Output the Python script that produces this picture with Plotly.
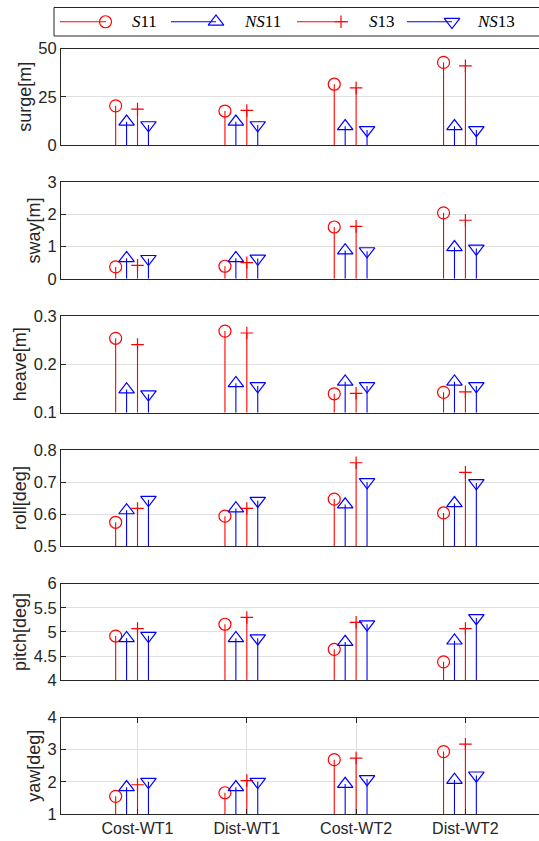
import plotly.graph_objects as go

# ---------------------------------------------------------------- data
categories = ["Cost-WT1", "Dist-WT1", "Cost-WT2", "Dist-WT2"]
cat_pos = [1, 2, 3, 4]

series_names = ["S11", "NS11", "S13", "NS13"]
series_labels = ["<i>S</i>11", "<i>NS</i>11", "<i>S</i>13", "<i>NS</i>13"]
series_offsets = [-0.2, -0.1, 0.0, 0.1]

surge_S11 = [20.3, 17.6, 31.5, 42.8]
surge_NS11 = [12.0, 12.0, 9.7, 9.7]
surge_S13 = [18.6, 17.9, 29.6, 41.0]
surge_NS13 = [10.3, 10.3, 7.8, 7.8]

sway_S11 = [0.37, 0.39, 1.61, 2.05]
sway_NS11 = [0.64, 0.64, 0.88, 0.98]
sway_S13 = [0.42, 0.50, 1.63, 1.82]
sway_NS13 = [0.62, 0.63, 0.86, 0.94]

heave_S11 = [0.254, 0.269, 0.139, 0.142]
heave_NS11 = [0.148, 0.161, 0.164, 0.164]
heave_S13 = [0.241, 0.265, 0.140, 0.143]
heave_NS13 = [0.138, 0.155, 0.155, 0.155]

roll_S11 = [0.575, 0.594, 0.647, 0.604]
roll_NS11 = [0.612, 0.618, 0.630, 0.634]
roll_S13 = [0.618, 0.618, 0.760, 0.730]
roll_NS13 = [0.645, 0.642, 0.700, 0.697]

pitch_S11 = [4.915, 5.16, 4.64, 4.38]
pitch_NS11 = [4.87, 4.87, 4.79, 4.82]
pitch_S13 = [5.07, 5.30, 5.20, 5.07]
pitch_NS13 = [4.92, 4.87, 5.16, 5.29]

yaw_S11 = [1.55, 1.66, 2.69, 2.94]
yaw_NS11 = [1.83, 1.83, 1.93, 2.06]
yaw_S13 = [1.91, 2.04, 2.74, 3.17]
yaw_NS13 = [2.00, 2.00, 2.09, 2.20]

panel_titles = ["surge[m]", "sway[m]", "heave[m]", "roll[deg]", "pitch[deg]", "yaw[deg]"]
panel_data = [
    [surge_S11, surge_NS11, surge_S13, surge_NS13],
    [sway_S11, sway_NS11, sway_S13, sway_NS13],
    [heave_S11, heave_NS11, heave_S13, heave_NS13],
    [roll_S11, roll_NS11, roll_S13, roll_NS13],
    [pitch_S11, pitch_NS11, pitch_S13, pitch_NS13],
    [yaw_S11, yaw_NS11, yaw_S13, yaw_NS13],
]
panel_ranges = [[0, 50], [0, 3], [0.1, 0.3], [0.5, 0.8], [4, 6], [1, 4]]
panel_ticks = [
    [0, 25, 50],
    [0, 1, 2, 3],
    [0.1, 0.2, 0.3],
    [0.5, 0.6, 0.7, 0.8],
    [4, 4.5, 5, 5.5, 6],
    [1, 2, 3, 4],
]
panel_ticktext = [
    ["0", "25", "50"],
    ["0", "1", "2", "3"],
    ["0.1", "0.2", "0.3"],
    ["0.5", "0.6", "0.7", "0.8"],
    ["4", "4.5", "5", "5.5", "6"],
    ["1", "2", "3", "4"],
]

# ---------------------------------------------------------------- styles
RED = "#ff0000"
BLUE = "#0000ff"
series_colors = [RED, BLUE, RED, BLUE]
series_symbols = ["circle-open", "triangle-up-open", "cross-thin-open", "triangle-down-open"]
series_sizes = [12, 13.5, 9, 13.5]
AX = "#262626"
GRID = "#e0e0e0"
FONT = "Liberation Sans, Arial, sans-serif"
SERIF = "Liberation Serif, Times New Roman, serif"

W, H = 539, 841
ML = 61
plot_w = W - ML
px_per_unit = 109.3
x_lo = 0.3
x_hi = x_lo + plot_w / px_per_unit

tops = [48.5 + 133.8 * i for i in range(6)]
ph = 96.5

fig = go.Figure()
layout = dict(
    template="none",
    width=W, height=H, autosize=False,
    margin=dict(l=ML, r=0, t=0, b=0, pad=0),
    paper_bgcolor="white", plot_bgcolor="white",
    showlegend=False,
    font=dict(family=FONT, size=16, color=AX),
)

for p in range(6):
    xa = "x" if p == 0 else f"x{p+1}"
    ya = "y" if p == 0 else f"y{p+1}"
    last = p == 5
    for s in range(4):
        xs = [c + series_offsets[s] for c in cat_pos]
        vals = panel_data[p][s]
        sx, sy = [], []
        for xv, yv in zip(xs, vals):
            sx += [xv, xv, None]
            sy += [0, yv, None]
        fig.add_trace(go.Scatter(
            x=sx, y=sy, mode="lines", xaxis=xa, yaxis=ya,
            line=dict(color=series_colors[s], width=1.1),
            hoverinfo="skip",
        ))
        fig.add_trace(go.Scatter(
            x=xs, y=vals, mode="markers", xaxis=xa, yaxis=ya,
            name=series_names[s],
            marker=dict(symbol=series_symbols[s], size=series_sizes[s],
                        color=series_colors[s],
                        line=dict(color=series_colors[s], width=1.2)),
            cliponaxis=False,
        ))
    y0 = 1 - (tops[p] + ph) / H
    y1 = 1 - tops[p] / H
    xkey = "xaxis" if p == 0 else f"xaxis{p+1}"
    ykey = "yaxis" if p == 0 else f"yaxis{p+1}"
    layout[xkey] = dict(
        domain=[0, 1], anchor=ya, range=[x_lo, x_hi], automargin=False,
        showline=True, linecolor=AX, linewidth=1,
        mirror="ticks" if last else True,
        showgrid=last, gridcolor=GRID, gridwidth=1,
        zeroline=False,
        tickmode="array", tickvals=cat_pos, ticktext=categories,
        showticklabels=last,
        ticks="inside" if last else "", ticklen=5, tickcolor=AX,
        tickfont=dict(size=16, color=AX, family=FONT),
    )
    layout[ykey] = dict(
        domain=[y0, y1], anchor=xa, range=panel_ranges[p], automargin=False,
        showline=True, linecolor=AX, linewidth=1, mirror=False,
        showgrid=True, gridcolor=GRID, gridwidth=1, zeroline=False,
        tickmode="array", tickvals=panel_ticks[p], ticktext=panel_ticktext[p],
        ticks="inside", ticklen=5, tickcolor=AX,
        tickfont=dict(size=16.5, color=AX, family=FONT),
        title=dict(text=panel_titles[p], font=dict(size=18, color=AX, family=FONT),
                   standoff=2),
    )

# ---------------------------------------------------------------- legend
leg_top, leg_bot = 7.5, 36.0
leg_mid = (leg_top + leg_bot) / 2
leg_line_x = [(60, 106), (171, 216), (297, 348), (407, 452)]
leg_marker_x = [105.5, 216, 341, 452]
leg_text_x = [130, 242, 367, 475]


def px_x(v):
    return (v - ML) / plot_w


def px_y(v):
    return 1 - v / H


shapes = [dict(type="rect", xref="paper", yref="paper",
               x0=px_x(54), x1=1.05, y0=px_y(leg_bot), y1=px_y(leg_top),
               line=dict(color=AX, width=1), fillcolor="white", layer="below")]
for s in range(4):
    shapes.append(dict(type="line", xref="paper", yref="paper",
                       x0=px_x(leg_line_x[s][0]), x1=px_x(leg_line_x[s][1]),
                       y0=px_y(leg_mid), y1=px_y(leg_mid),
                       line=dict(color=series_colors[s], width=1.2)))
layout["shapes"] = shapes

layout["xaxis7"] = dict(domain=[0, 1], anchor="y7", range=[ML, W], visible=False,
                        automargin=False)
layout["yaxis7"] = dict(domain=[px_y(leg_bot), px_y(leg_top)], anchor="x7",
                        range=[leg_bot, leg_top], visible=False, automargin=False)
for s in range(4):
    fig.add_trace(go.Scatter(
        x=[leg_marker_x[s]], y=[leg_mid], mode="markers", xaxis="x7", yaxis="y7",
        marker=dict(symbol=series_symbols[s], size=series_sizes[s],
                    color=series_colors[s],
                    line=dict(color=series_colors[s], width=1.2)),
        cliponaxis=False, hoverinfo="skip",
    ))

layout["annotations"] = [
    dict(xref="paper", yref="paper", x=px_x(leg_text_x[s]), y=px_y(leg_mid),
         xanchor="left", yanchor="middle", showarrow=False,
         text=series_labels[s], font=dict(family=SERIF, size=17, color="black"))
    for s in range(4)
]

fig.update_layout(**layout)
fig.write_html("out.html")
